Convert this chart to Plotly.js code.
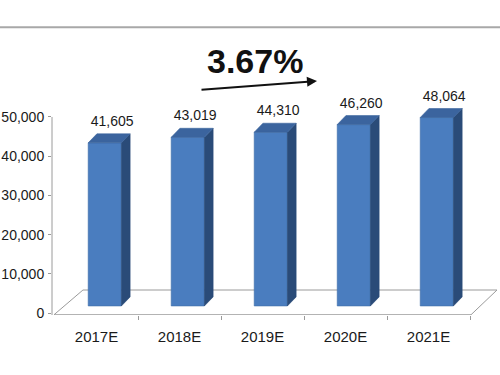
<!DOCTYPE html>
<html>
<head>
<meta charset="utf-8">
<script src="https://cdn.plot.ly/plotly-3.0.1.min.js"></script>
<style>html,body{margin:0;padding:0;background:#fff;}#chart{width:500px;height:375px;}</style>
</head>
<body>
<div id="chart"></div>
<script>
const categories = ['2017E', '2018E', '2019E', '2020E', '2021E'];
const values = [41605, 43019, 44310, 46260, 48064];
const yTickVals = [0, 10000, 20000, 30000, 40000, 50000];
const yTickText = ['0', '10,000', '20,000', '30,000', '40,000', '50,000'];
const growthText = '3.67%';

// 3D look parameters (axis units)
const shiftX = 0.1, halfW = 0.2, depthX = 0.105, depthY = 2300, baseY = 1800;
const cFront = '#4a7dbf', cSide = '#2a4b78', cTop = '#3b649e';
const fam = 'Arial, "Liberation Sans", sans-serif';

const traces = [];
values.forEach((v, i) => {
  const c = i + shiftX, l = c - halfW, r = c + halfW;
  const b = baseY, t = v + baseY;
  traces.push({type:'scatter', mode:'lines', x:[l, r, r, l, l], y:[b, b, t, t, b],
    fill:'toself', fillcolor:cFront, line:{color:'#3f6faa', width:0.6}, hoverinfo:'skip', showlegend:false});
  traces.push({type:'scatter', mode:'lines', x:[r, r+depthX, r+depthX, r, r], y:[b, b+depthY, t+depthY, t, b],
    fill:'toself', fillcolor:cSide, line:{color:cSide, width:0.6}, hoverinfo:'skip', showlegend:false});
  traces.push({type:'scatter', mode:'lines', x:[l, l+depthX, r+depthX, r, l], y:[t, t+depthY, t+depthY, t, t],
    fill:'toself', fillcolor:cTop, line:{color:cTop, width:0.6}, hoverinfo:'skip', showlegend:false});
});
traces.push({type:'scatter', mode:'text',
  x: values.map((v, i) => i + shiftX + depthX * 0.85),
  y: values.map(v => v + baseY + depthY + 1100),
  text: values.map(v => v.toLocaleString('en-US')),
  textposition:'top center',
  textfont:{family:fam, size:14, color:'#1a1a1a'},
  hoverinfo:'skip', showlegend:false, cliponaxis:false});

const floorColor = '#9a9a9a';
const layout = {
  width:500, height:375,
  margin:{l:52, r:0, t:40, b:60},
  paper_bgcolor:'#fff', plot_bgcolor:'#fff',
  font:{family:fam, size:14, color:'#1a1a1a'},
  xaxis:{range:[-0.536, 4.861], tickvals:[0,1,2,3,4], ticktext:categories, ticks:'',
    showgrid:false, zeroline:false, showline:false, ticklabelstandoff:11,
    minor:{tickvals:[0.5,1.5,2.5,3.5,4.5], ticks:'outside', ticklen:4, tickcolor:floorColor, showgrid:false},
    tickfont:{family:fam, size:15, color:'#1a1a1a'}},
  yaxis:{range:[-510, 69640], tickvals:yTickVals, ticktext:yTickText, ticks:'outside', ticklen:3,
    tickcolor:floorColor, showgrid:false, zeroline:false, showline:false, ticklabelstandoff:1,
    tickfont:{family:fam, size:14, color:'#1a1a1a'}},
  shapes:[
    {type:'line', xref:'paper', yref:'y', x0:0, x1:0, y0:-510, y1:50000, line:{color:floorColor, width:1}},
    {type:'path', xref:'x', yref:'y', path:'M -0.512 -450 L -0.163 5867 L 4.825 5867 L 4.512 -450 Z',
      line:{color:floorColor, width:1}, layer:'below'},
    {type:'line', xref:'paper', yref:'paper', x0:-0.12, x1:1, y0:1.046, y1:1.046, line:{color:'#a8a8a8', width:2}}
  ],
  annotations:[
    {xref:'paper', yref:'paper', x:0.453, y:0.924, text:'<b>' + growthText + '</b>', showarrow:false,
      font:{family:fam, size:34, color:'#111'}, xanchor:'center', yanchor:'middle'},
    {xref:'paper', yref:'paper', x:0.5915, y:0.851, text:'', showarrow:true, ax:-117, ay:9,
      arrowhead:2, arrowsize:1, arrowwidth:2, arrowcolor:'#111', standoff:0, startstandoff:0}
  ]
};
Plotly.newPlot('chart', traces, layout, {displayModeBar:false, staticPlot:true});
</script>
</body>
</html>
